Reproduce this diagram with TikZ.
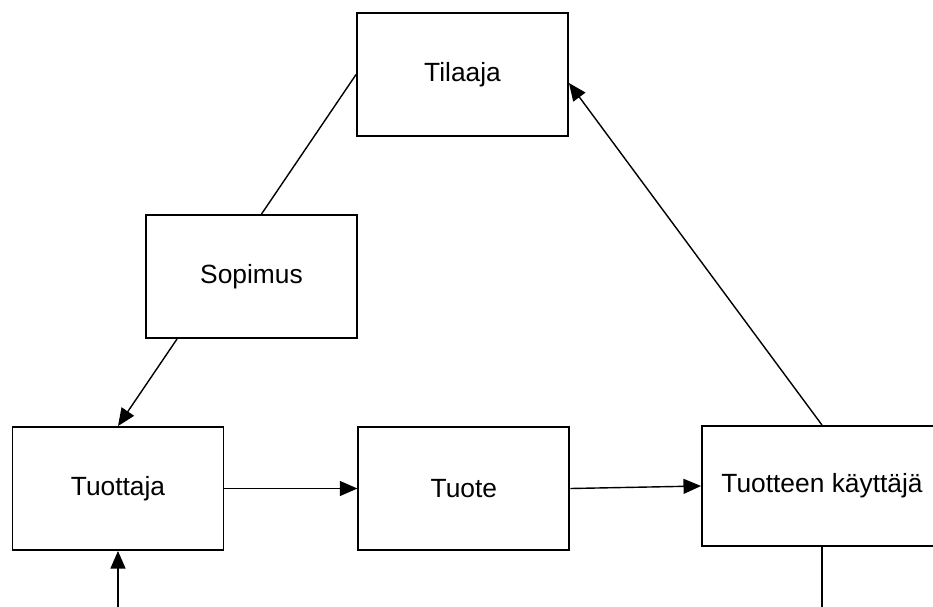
\documentclass[tikz,border=0pt]{standalone}
\usepackage{fontspec}
\setmainfont{Liberation Sans}
\usetikzlibrary{arrows.meta, positioning}

\begin{document}
\begin{tikzpicture}[
    x=0.02cm, y=-0.02cm,
    node distance=1cm and 2.66cm,
    box/.style={rectangle, draw, line width=1.1pt, minimum width=4.22cm, minimum height=2.46cm, inner sep=0pt},
    wide/.style={minimum width=4.8cm, minimum height=2.4cm},
    arr/.style={-{Triangle[length=10pt,width=8.5pt]}, line width=0.8pt},
    font=\fontsize{15}{18}\selectfont
]
\clip (0,0) rectangle (933,606);

\node[box] (tuottaja) at (118,488.5) {Tuottaja};
\node[box, right=of tuottaja] (tuote) {Tuote};
\node[box, wide] (kayttaja) at (822,486) {Tuotteen käyttäjä};
\node[box] (sopimus) at (251.5,276.5) {Sopimus};
\node[box] (tilaaja) at (462.5,74.5) {Tilaaja};

\coordinate (alavasen) at (118,620);
\coordinate (alaoikea) at (822,620);

\draw[line width=0.8pt] (tilaaja.west) -- ([xshift=0.2cm]sopimus.north);
\draw[arr] ([xshift=0.64cm]sopimus.south west) -- (tuottaja.north);
\draw[arr] (tuottaja) -- (tuote);
\draw[arr] (tuote.east) -- (kayttaja.west);
\draw[arr] (kayttaja.north) -- ([yshift=-0.17cm]tilaaja.east);

\draw[line width=0.8pt] (kayttaja.south) -- (alaoikea);
\draw[arr] (alavasen) -- (tuottaja.south);

\end{tikzpicture}
\end{document}
